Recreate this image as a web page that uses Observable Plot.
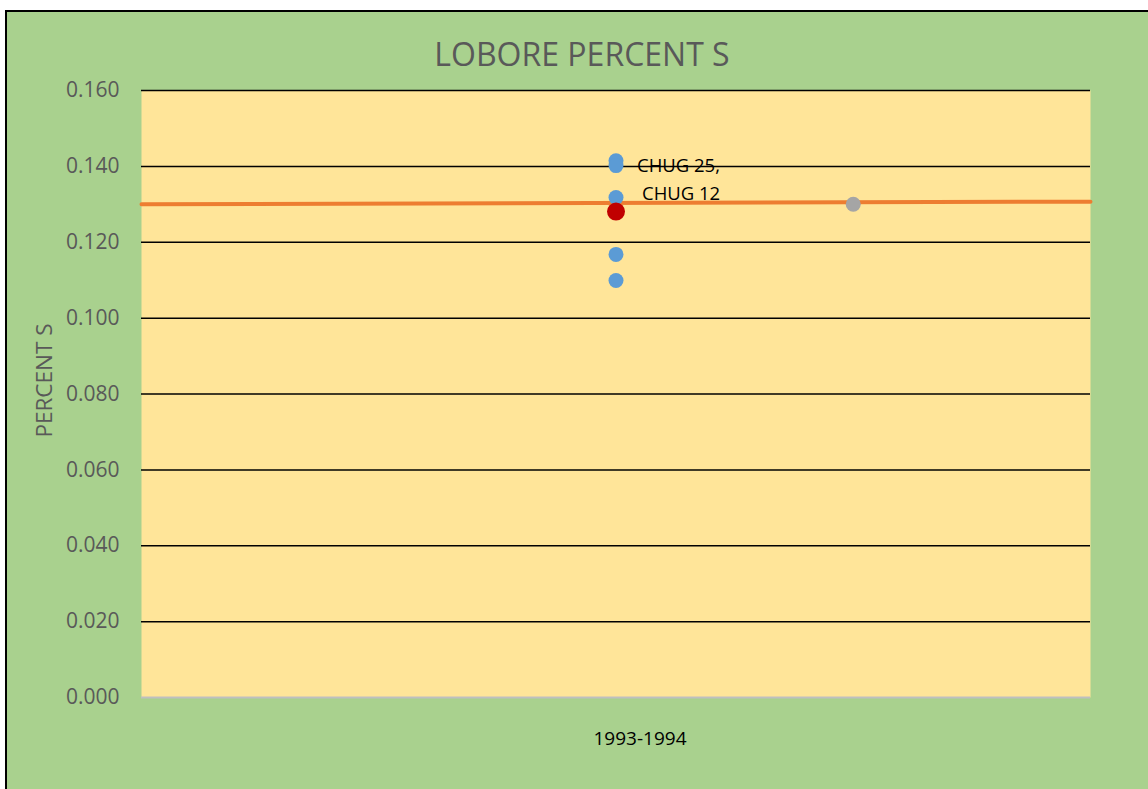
<!DOCTYPE html>
<html>
<head>
<meta charset="utf-8">
<script src="https://cdn.jsdelivr.net/npm/d3@7"></script>
<script src="https://cdn.jsdelivr.net/npm/@observablehq/plot@0.6"></script>
<style>
  html, body { margin: 0; padding: 0; background: #ffffff; overflow: hidden; }
  #frame { position: absolute; left: 5px; top: 10px; width: 1200px; height: 800px;
           background: #A9D18E; border-left: 2px solid #000; border-top: 2px solid #000; }
  #title { position: absolute; left: 0; top: 32px; width: 1164px; text-align: center;
           font-family: "Open Sans", sans-serif; font-size: 32px; color: #595959; line-height: 44px; }
  #chart { position: absolute; left: 0; top: 0; }
</style>
</head>
<body>
<div id="frame"></div>
<div id="title">LOBORE PERCENT S</div>
<div id="chart"></div>
<script>
// Data
const categories = ["1993-1994"];
const categoryX = [1];
const blueValues = [0.1415, 0.1402, 0.1318, 0.1168, 0.1099];
const redValues = [0.1281];
const grayX = [1.5];
const grayValues = [0.1300];
const trendX = [0, 2];
const trendValues = [0.1300, 0.1307];
const pointLabels = ["CHUG 25,", "CHUG 12"];
const labelValues = [0.1415, 0.1318];
const yTicks = [0, 0.02, 0.04, 0.06, 0.08, 0.10, 0.12, 0.14, 0.16];
const yLabel = "PERCENT S";

const blue = blueValues.map(v => ({x: categoryX[0], y: v}));
const red = redValues.map(v => ({x: categoryX[0], y: v}));
const gray = grayValues.map((v, i) => ({x: grayX[i], y: v}));
const trend = trendValues.map((v, i) => ({x: trendX[i], y: v}));
const labels = pointLabels.map((t, i) => ({x: categoryX[0], y: labelValues[i], t}));

const plot = Plot.plot({
  width: 1148,
  height: 789,
  marginTop: 90,
  marginLeft: 141,
  marginRight: 58,
  marginBottom: 92,
  style: {background: "transparent", fontFamily: "Open Sans, sans-serif"},
  x: {domain: [0, 2]},
  y: {domain: [0, 0.16]},
  marks: [
    Plot.frame({fill: "#FFE599", stroke: null}),
    Plot.ruleY(yTicks.filter(d => d > 0), {stroke: "#000", strokeWidth: 1.5}),
    Plot.ruleY([0], {stroke: "#BFBFBF", strokeWidth: 2}),
    Plot.axisY({ticks: yTicks, tickFormat: d3.format(".3f"), tickSize: 0, tickPadding: 22,
      fontSize: 21, color: "#595959", label: null}),
    Plot.text([yLabel], {frameAnchor: "left", text: d => d, rotate: -90, dx: -97, dy: -13.5,
      textAnchor: "middle", lineAnchor: "middle", fontSize: 22.5, fill: "#595959"}),
    Plot.axisX({ticks: categoryX, tickFormat: (d, i) => categories[i], tickSize: 0,
      tickPadding: 34, dx: 24, fontSize: 19, color: "#000", label: null}),
    Plot.line(trend, {x: "x", y: "y", stroke: "#ED7D31", strokeWidth: 4}),
    Plot.dot(gray, {x: "x", y: "y", r: 7.5, fill: "#A5A5A5"}),
    Plot.dot(blue, {x: "x", y: "y", r: 7.5, fill: "#5B9BD5"}),
    Plot.dot(red, {x: "x", y: "y", r: 9, fill: "#C00000"}),
    Plot.text(labels.slice(0, 1), {x: "x", y: "y", text: "t", textAnchor: "start", dx: 21, dy: 5,
      fontSize: 18.5, fill: "#000"}),
    Plot.text(labels.slice(1), {x: "x", y: "y", text: "t", textAnchor: "start", dx: 26, dy: -3,
      fontSize: 18.5, fill: "#000"})
  ]
});
document.getElementById("chart").appendChild(plot);
</script>
</body>
</html>
